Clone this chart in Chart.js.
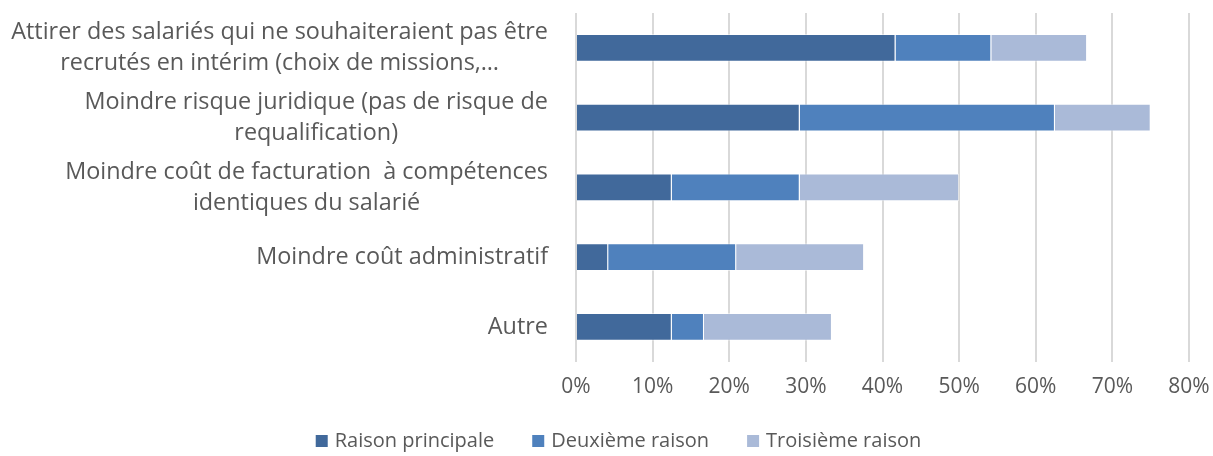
<!DOCTYPE html>
<html>
<head>
<meta charset="utf-8">
<script src="https://cdn.jsdelivr.net/npm/chart.js@4"></script>
<style>
  html, body { margin: 0; padding: 0; background: #fff; }
  #wrap { width: 1213px; height: 456px; }
</style>
</head>
<body>
<div id="wrap"><canvas id="chart" width="1213" height="456"></canvas></div>
<script>
const categories = [
    ['Attirer des salariés qui ne souhaiteraient pas être', 'recrutés en intérim (choix de missions,…'],
    ['Moindre risque juridique (pas de risque de', 'requalification)'],
    ['Moindre coût de facturation  à compétences', 'identiques du salarié'],
    ['Moindre coût administratif'],
    ['Autre']
];
const seriesNames = ['Raison principale', 'Deuxième raison', 'Troisième raison'];
const raisonPrincipale = [41.7, 29.2, 12.5, 4.2, 12.5];
const deuxiemeRaison = [12.5, 33.3, 16.7, 16.7, 4.2];
const troisiemeRaison = [12.5, 12.5, 20.8, 16.7, 16.7];
const xTicks = [0, 10, 20, 30, 40, 50, 60, 70, 80];

const colors = ['#41699b', '#4f81bd', '#aabad8'];
const FONT = '"Open Sans", sans-serif';
const TEXT = '#595959';

// category labels, centred line by line like the office chart
const catLabelPlugin = {
    id: 'catLabels',
    afterDraw(chart) {
        const { ctx } = chart;
        const y = chart.scales.y;
        const right = 548;
        const lh = 31;
        ctx.save();
        ctx.font = '23.4px ' + FONT;
        ctx.fillStyle = TEXT;
        ctx.textAlign = 'center';
        ctx.textBaseline = 'middle';
        categories.forEach((lines, i) => {
            const cy = y.getPixelForTick(i);
            const w = Math.max(...lines.map(l => ctx.measureText(l).width));
            const cx = right - w / 2;
            const top = cy - (lines.length - 1) * lh / 2;
            lines.forEach((l, j) => ctx.fillText(l, cx, top + j * lh));
        });
        ctx.restore();
    }
};

const legendPlugin = {
    id: 'bottomLegend',
    afterDraw(chart) {
        const { ctx } = chart;
        const gap = 38, box = 12, boxGap = 7;
        ctx.save();
        ctx.font = '20px ' + FONT;
        ctx.textBaseline = 'middle';
        ctx.textAlign = 'left';
        const widths = seriesNames.map(n => box + boxGap + ctx.measureText(n).width);
        const total = widths.reduce((a, b) => a + b, 0) + gap * (seriesNames.length - 1);
        let x = (chart.width - total) / 2 + 12;
        const cy = 441;
        seriesNames.forEach((n, i) => {
            ctx.fillStyle = colors[i];
            ctx.fillRect(x, cy - box / 2, box, box);
            ctx.fillStyle = TEXT;
            ctx.fillText(n, x + box + boxGap, cy);
            x += widths[i] + gap;
        });
        ctx.restore();
    }
};

const values = [raisonPrincipale, deuxiemeRaison, troisiemeRaison];

new Chart(document.getElementById('chart'), {
    type: 'bar',
    data: {
        labels: categories.map(c => c.join(' ')),
        datasets: values.map((v, i) => ({
            label: seriesNames[i],
            data: v,
            backgroundColor: colors[i],
            borderColor: 'rgba(255,255,255,0.5)',
            borderWidth: 1,
            barPercentage: 1,
            categoryPercentage: 0.4
        }))
    },
    options: {
        responsive: false,
        animation: false,
        indexAxis: 'y',
        layout: { padding: { top: 13, right: 24, bottom: 43, left: 0 } },
        scales: {
            x: {
                stacked: true,
                min: 0,
                max: 80,
                afterBuildTicks: s => { s.ticks = xTicks.map(v => ({ value: v })); },
                afterFit: s => { s.paddingRight = 0; s.paddingLeft = 0; },
                ticks: {
                    callback: v => v + '%',
                    font: { family: FONT, size: 21 },
                    color: TEXT,
                    padding: 13
                },
                grid: { color: '#d9d9d9', lineWidth: 2, drawTicks: false },
                border: { display: false }
            },
            y: {
                stacked: true,
                ticks: { display: false },
                grid: { display: false },
                border: { display: false },
                afterFit: s => { s.width = 576; }
            }
        },
        plugins: {
            legend: { display: false },
            tooltip: { enabled: false }
        }
    },
    plugins: [catLabelPlugin, legendPlugin]
});
</script>
</body>
</html>
